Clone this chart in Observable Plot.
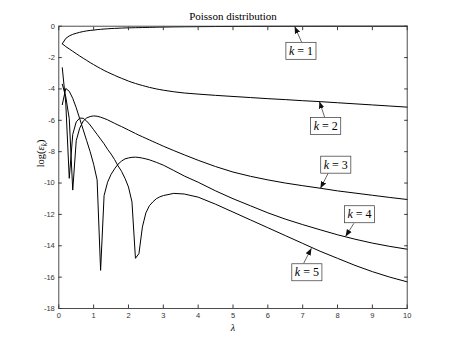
<!DOCTYPE html>
<html>
<head>
<meta charset="utf-8">
<script src="https://cdn.jsdelivr.net/npm/d3@7"></script>
<script src="https://cdn.jsdelivr.net/npm/@observablehq/plot@0.6"></script>
<style>
  html, body { margin: 0; padding: 0; background: #fff; }
</style>
</head>
<body>
<div id="chart"></div>
<script>
// ---- data ----
const lambda = [0.1,0.2,0.3,0.4,0.5,0.6,0.7,0.8,0.9,1.0,1.1,1.2,1.3,1.4,1.5,1.6,1.7,1.8,1.9,2.0,2.1,2.2,2.3,2.4,2.5,2.6,2.7,2.8,2.9,3.0,3.3,3.6,4,4.5,5,5.5,6,6.5,7,7.5,8,8.5,9,9.5,10];

const errK1 = [-1.12,-0.78,-0.62,-0.52,-0.45,-0.39,-0.34,-0.30,-0.27,-0.25,-0.22,-0.20,-0.18,-0.165,-0.15,-0.14,-0.13,-0.12,-0.11,-0.105,-0.10,-0.095,-0.09,-0.085,-0.08,-0.075,-0.07,-0.065,-0.06,-0.055,-0.045,-0.038,-0.03,-0.022,-0.016,-0.012,-0.009,-0.007,-0.005,-0.004,-0.003,-0.002,-0.0015,-0.001,-0.001];
const errK2 = [-1.12,-1.3,-1.45,-1.6,-1.75,-1.9,-2.04,-2.18,-2.32,-2.45,-2.58,-2.7,-2.82,-2.93,-3.03,-3.13,-3.23,-3.32,-3.41,-3.5,-3.58,-3.65,-3.72,-3.78,-3.84,-3.9,-3.95,-4.0,-4.04,-4.08,-4.18,-4.26,-4.33,-4.41,-4.48,-4.55,-4.62,-4.68,-4.75,-4.81,-4.88,-4.95,-5.02,-5.09,-5.16];
const errK3 = [-3.7,-4.5,-5.9,-10.45,-7.3,-6.5,-6.05,-5.85,-5.76,-5.72,-5.74,-5.8,-5.88,-5.97,-6.08,-6.19,-6.3,-6.4,-6.51,-6.62,-6.73,-6.84,-6.95,-7.05,-7.15,-7.25,-7.35,-7.45,-7.55,-7.65,-7.93,-8.2,-8.55,-8.95,-9.3,-9.57,-9.8,-10.0,-10.17,-10.33,-10.5,-10.64,-10.78,-10.92,-11.05];
const errK4 = [-5.0,-3.97,-4.15,-4.6,-5.2,-5.9,-6.6,-7.3,-8.0,-8.8,-9.8,-15.57,-10.8,-9.95,-9.45,-9.1,-8.8,-8.6,-8.46,-8.4,-8.36,-8.35,-8.37,-8.41,-8.46,-8.52,-8.6,-8.68,-8.77,-8.86,-9.2,-9.55,-9.95,-10.5,-11.0,-11.45,-11.9,-12.3,-12.65,-12.98,-13.3,-13.58,-13.83,-14.04,-14.22];
const errK5 = [-2.65,-4.9,-9.7,-6.9,-6.1,-5.86,-5.87,-6.05,-6.3,-6.6,-6.9,-7.2,-7.5,-7.85,-8.15,-8.5,-8.9,-9.25,-9.7,-10.25,-11.2,-14.8,-14.5,-12.8,-11.9,-11.45,-11.2,-11.0,-10.88,-10.8,-10.66,-10.7,-10.9,-11.35,-11.85,-12.35,-12.85,-13.35,-13.85,-14.35,-14.8,-15.25,-15.65,-16.0,-16.3];

const seriesNames = ["k=1","k=2","k=3","k=4","k=5"];
const xTicks = [0,1,2,3,4,5,6,7,8,9,10];
const yTicks = [0,-2,-4,-6,-8,-10,-12,-14,-16,-18];

const titleText = "Poisson distribution";
const xLabelText = "λ";
const yLabelText = "log(ε_k)";

// annotations (data coordinates)
const annotLabel = ["k = 1","k = 2","k = 3","k = 4","k = 5"];
const annotX = [6.95, 7.66, 7.95, 8.63, 7.12];
const annotY = [-1.58, -6.37, -8.84, -12.0, -15.7];
const arrowFromX = [6.97, 7.63, 7.73, 8.47, 7.03];
const arrowFromY = [-1.02, -5.80, -9.38, -12.57, -15.11];
const arrowToX = [6.77, 7.48, 7.51, 8.23, 7.25];
const arrowToY = [-0.02, -4.8, -10.34, -13.41, -14.16];

// ---- build tables ----
const series = [errK1, errK2, errK3, errK4, errK5];
const rows = series.flatMap((vals, i) => lambda.map((l, j) => ({k: seriesNames[i], lambda: l, value: vals[j]})));
const annots = annotLabel.map((t, i) => ({
  text: t, x: annotX[i], y: annotY[i],
  x1: arrowFromX[i], y1: arrowFromY[i], x2: arrowToX[i], y2: arrowToY[i]
}));

const serif = "'Liberation Serif', 'Times New Roman', serif";
const sans = "'Liberation Sans', Arial, Helvetica, sans-serif";
const axisColor = "#3a3a3a";

const chart = Plot.plot({
  width: 450,
  height: 346,
  marginTop: 25.7,
  marginLeft: 58.3,
  marginRight: 43.3,
  marginBottom: 38,
  style: {background: "white", fontFamily: sans, fontSize: "7.5px", color: "#333"},
  x: {domain: [0, 10]},
  y: {domain: [-18, 0]},
  marks: [
    Plot.line(rows, {x: "lambda", y: "value", z: "k", stroke: "#000", strokeWidth: 1}),
    Plot.frame({stroke: axisColor, strokeWidth: 0.9}),
    Plot.axisX({ticks: xTicks, anchor: "bottom", tickSize: -3.5, tickPadding: 8, label: null, stroke: axisColor, fill: "#333"}),
    Plot.axisX({ticks: xTicks, anchor: "top", tickSize: -3.5, tickFormat: () => "", label: null, stroke: axisColor}),
    Plot.axisY({ticks: yTicks, anchor: "left", tickSize: -3.5, tickPadding: 7.5, label: null, stroke: axisColor, fill: "#333", tickFormat: d => String(d)}),
    Plot.axisY({ticks: yTicks, anchor: "right", tickSize: -3.5, tickFormat: () => "", label: null, stroke: axisColor}),
    Plot.link(annots, {x1: "x1", y1: "y1", x2: "x2", y2: "y2", stroke: "#222", strokeWidth: 0.7}),
    Plot.text(annots, {x: "x", y: "y", text: "text", fontFamily: serif, fontSize: 12, fill: "#000"}),
    Plot.text([titleText], {frameAnchor: "top", lineAnchor: "middle", dy: -10, fontFamily: serif, fontSize: 11, fill: "#000"}),
    Plot.text([xLabelText], {frameAnchor: "bottom", lineAnchor: "middle", dy: 19, fontFamily: serif, fontSize: 10, fontStyle: "italic", fill: "#000"}),
    Plot.text([yLabelText], {frameAnchor: "left", lineAnchor: "middle", dx: -18, rotate: -90, fontFamily: serif, fontSize: 10.5, fill: "#000"})
  ]
});

document.getElementById("chart").appendChild(chart);

// ---- post-processing: arrowheads, label boxes, math styling ----
const s = d3.select(chart);
const defs = s.insert("defs", ":first-child");
defs.append("marker")
  .attr("id", "ah")
  .attr("viewBox", "0 0 10 10")
  .attr("refX", 10).attr("refY", 5)
  .attr("markerWidth", 7).attr("markerHeight", 7)
  .attr("markerUnits", "userSpaceOnUse")
  .attr("orient", "auto")
  .append("path").attr("d", "M0,1L10,5L0,9Z").attr("fill", "#111");
s.selectAll('g[aria-label="link"] path').attr("marker-end", "url(#ah)");

const labelSet = new Set(annotLabel);
s.selectAll("text").each(function() {
  const t = this;
  const label = t.textContent;
  if (labelSet.has(label)) {
    const parts = label.split("=");
    t.textContent = "";
    const sel = d3.select(t);
    sel.append("tspan").attr("font-style", "italic").text(parts[0].trim());
    sel.append("tspan").text(" = " + parts[1].trim());
    const b = t.getBBox();
    const r = d3.select(t.parentNode).insert("rect", () => t)
      .attr("x", b.x - 3).attr("y", b.y - 1.5)
      .attr("width", b.width + 6).attr("height", b.height + 3)
      .attr("fill", "white").attr("stroke", "#333").attr("stroke-width", 0.7);
    const tr = t.getAttribute("transform");
    if (tr) r.attr("transform", tr);
  } else if (label === yLabelText) {
    const sel = d3.select(t);
    sel.text("");
    sel.append("tspan").text("log(");
    sel.append("tspan").attr("font-style", "italic").text("ε");
    sel.append("tspan").attr("font-style", "italic").attr("font-size", "7.5px").attr("dy", "2.5").text("k");
    sel.append("tspan").attr("dy", "-2.5").text(")");
  }
});
</script>
</body>
</html>
